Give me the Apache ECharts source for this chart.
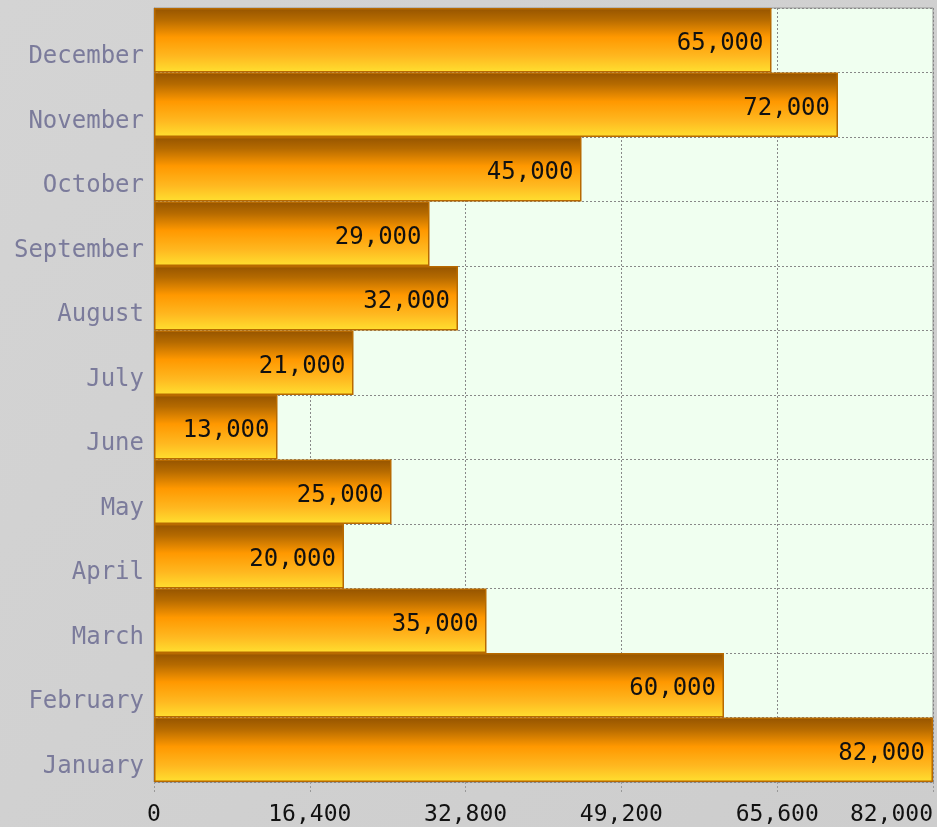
<!DOCTYPE html>
<html>
<head>
<meta charset="utf-8">
<script src="https://cdn.jsdelivr.net/npm/echarts@6/dist/echarts.min.js"></script>
<style>
  html, body { margin:0; padding:0; background:#d2d2d2; }
  #chart { width:937px; height:827px; }
</style>
</head>
<body>
<div id="chart"></div>
<script>
  var months = ['January','February','March','April','May','June','July','August','September','October','November','December'];
  var sales = [82000, 60000, 35000, 20000, 25000, 13000, 21000, 32000, 29000, 45000, 72000, 65000];
  var axisMax = 82000;
  var axisStep = 16400;

  var myChart = echarts.init(document.getElementById('chart'));
  var option = {
    backgroundColor: new echarts.graphic.LinearGradient(0, 0, 1, 1, [
      {offset: 0, color: '#d4d4d4'},
      {offset: 1, color: '#cdcdcd'}
    ]),
    animation: false,
    grid: {
      left: 154,
      right: 4,
      top: 8,
      bottom: 45,
      outerBoundsMode: 'none',
      containLabel: false,
      show: true,
      backgroundColor: '#f0fff0',
      borderColor: '#999',
      borderWidth: 1
    },
    xAxis: {
      type: 'value',
      min: 0,
      max: axisMax,
      interval: axisStep,
      axisLine: { show: false },
      axisTick: { show: true, length: 12, lineStyle: { color: '#999', type: [2, 2] } },
      splitLine: { show: true, lineStyle: { color: '#888', type: [2, 2], width: 1 } },
      axisLabel: {
        color: '#111',
        fontFamily: 'DejaVu Sans Mono',
        fontSize: 23,
        margin: 22,
        alignMaxLabel: 'right',
        formatter: function (v) { return v.toLocaleString('en-US'); }
      }
    },
    yAxis: {
      type: 'category',
      data: months,
      axisLine: { show: true, lineStyle: { color: '#999' } },
      axisTick: { show: false },
      splitLine: { show: true, lineStyle: { color: '#888', type: [2, 2], width: 1 } },
      axisLabel: {
        color: '#7b7b9b',
        fontFamily: 'DejaVu Sans Mono',
        fontSize: 24,
        margin: 10,
        verticalAlign: 'top',
        lineHeight: 24,
        padding: [5, 0, 0, 0]
      }
    },
    series: [{
      type: 'bar',
      data: sales,
      barCategoryGap: 0,
      itemStyle: {
        borderColor: '#b86a00',
        borderWidth: 1.5,
        color: new echarts.graphic.LinearGradient(0, 0, 0, 1, [
          {offset: 0, color: '#955400'},
          {offset: 0.18, color: '#b56a00'},
          {offset: 0.45, color: '#ff9800'},
          {offset: 0.75, color: '#ffb820'},
          {offset: 1, color: '#ffe030'}
        ])
      },
      label: {
        show: true,
        position: 'insideRight',
        color: '#111',
        fontFamily: 'DejaVu Sans Mono',
        fontSize: 24,
        distance: 8,
        offset: [0, 4],
        formatter: function (p) { return p.value.toLocaleString('en-US'); }
      }
    }]
  };
  myChart.setOption(option, true);
</script>
</body>
</html>
